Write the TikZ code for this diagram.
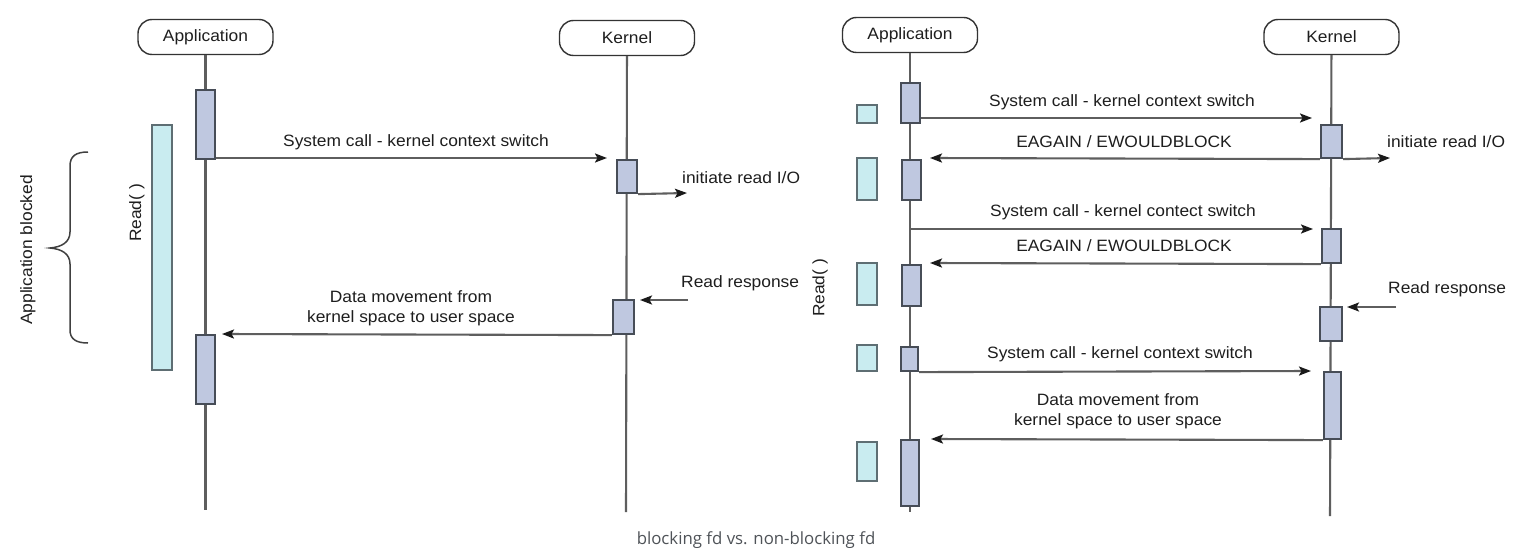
\documentclass[tikz,border=0pt]{standalone}
\usepackage{fontspec}
\setmainfont{Liberation Sans}[FakeStretch=1.06]
\newfontfamily\capfont{Open Sans}
\usetikzlibrary{arrows.meta}
\definecolor{actfill}{HTML}{BFC8E0}
\definecolor{actdraw}{HTML}{474D57}
\definecolor{cyfill}{HTML}{C9ECF0}
\definecolor{cydraw}{HTML}{5E6E73}
\definecolor{lifegray}{HTML}{5E5E5E}
\definecolor{textc}{HTML}{1E1E1E}
\definecolor{capc}{HTML}{4F5358}
\definecolor{tipc}{HTML}{1A1A1A}
\begin{document}
\begin{tikzpicture}[x=1pt,y=-1pt,
  head/.style={draw=black!80, line width=1.4pt, rounded corners=14pt, minimum width=135pt, minimum height=35pt, inner sep=0pt, text=textc, font=\fontsize{16.4}{19}\selectfont},
  act/.style={draw=actdraw, fill=actfill, line width=2.2pt, inner sep=0pt},
  cybox/.style={draw=cydraw, fill=cyfill, line width=2.2pt, inner sep=0pt},
  life/.style={draw=lifegray, line width=2.1pt},
  msg/.style={draw=lifegray, line width=2.1pt, -{Stealth[length=12pt,width=9pt,inset=2.5pt,color=tipc]}},
  lbl/.style={font=\fontsize{16.4}{19}\selectfont, text=textc, inner sep=0pt},
  brace/.style={draw=black!75, line width=1.5pt}
]
\useasboundingbox (0,0) rectangle (1530,556);
\fill[white] (0,0) rectangle (1530,556);

% ---------------- left: blocking ----------------
\node[head] (lapp) at (205.5,37) {Application};
\node[head] (lker) at (627,38) {Kernel};
\coordinate (lappend) at (205.5,510);
\coordinate (lkerend) at (626,512);
\draw[life] (lapp) -- (lappend);
\draw[life] (lker) -- (lkerend);

\node[cybox, minimum width=20pt, minimum height=245pt] (lread) at (162,247.5) {};
\node[act, minimum width=19pt, minimum height=69pt] (la1) at (205.5,124.5) {};
\node[act, minimum width=19pt, minimum height=69pt] (la2) at (205.5,369.5) {};
\node[act, minimum width=20pt, minimum height=33pt] (lk1) at (627,176.5) {};
\node[act, minimum width=21pt, minimum height=34pt] (lk2) at (623.5,317) {};

\coordinate (l1end) at (607,158);
\coordinate (lioend) at (687,193);
\coordinate (lrr) at (688,300);
\coordinate (lrrend) at (640,300);
\coordinate (ldmend) at (222,334);
\draw[msg] (la1.south east |- l1end) -- (l1end);
\draw[msg] (lk1.south east) -- (lioend);
\draw[msg] (lrr) -- (lrrend);
\draw[msg] (lk2.south west) -- (ldmend);

\node[lbl] (lt1) at (416,142) {System call - kernel context switch};
\node[lbl, anchor=west] (lt2) at (682,178) {initiate read I/O};
\node[lbl, anchor=west] (lt3) at (681,283) {Read response};
\node[lbl] (lt4) at (411,297) {Data movement from};
\node[lbl] (lt5) at (411,318) {kernel space to user space};
\node[lbl, rotate=90] (lt6) at (137,213) {Read( )};
\node[lbl, rotate=90] (lt7) at (28,250) {Application blocked};

\draw[brace] (88,152) .. controls (76,152) and (70,156) .. (70,166) -- (70,232)
  .. controls (70,242) and (62,247) .. (50,248)
  .. controls (62,249) and (70,254) .. (70,264) -- (70,330)
  .. controls (70,339) and (76,343) .. (88,343);

% ---------------- right: non-blocking ----------------
\node[head] (rapp) at (910,35) {Application};
\node[head] (rker) at (1331.5,37) {Kernel};
\coordinate (rappend) at (910,512);
\coordinate (rkerend) at (1330,516);
\draw[life] (rapp) -- (rappend);
\draw[life] (rker) -- (rkerend);

\node[cybox, minimum width=20pt, minimum height=18pt] (rc1) at (867,114) {};
\node[cybox, minimum width=20pt, minimum height=42pt] (rc2) at (867,179) {};
\node[cybox, minimum width=20pt, minimum height=42pt] (rc3) at (867,284) {};
\node[cybox, minimum width=20pt, minimum height=26pt] (rc4) at (867,358) {};
\node[cybox, minimum width=20pt, minimum height=39pt] (rc5) at (867,461.5) {};

\node[act, minimum width=19pt, minimum height=40pt] (ra1) at (910.5,103) {};
\node[act, minimum width=19pt, minimum height=40pt] (ra2) at (911.5,180) {};
\node[act, minimum width=19pt, minimum height=41pt] (ra3) at (911.5,285.5) {};
\node[act, minimum width=17pt, minimum height=24pt] (ra4) at (909.5,359) {};
\node[act, minimum width=18pt, minimum height=66pt] (ra5) at (910,473) {};

\node[act, minimum width=21pt, minimum height=33pt] (rk1) at (1331.5,141.5) {};
\node[act, minimum width=19pt, minimum height=34pt] (rk2) at (1331.5,246) {};
\node[act, minimum width=22pt, minimum height=34pt] (rk3) at (1331,324) {};
\node[act, minimum width=17pt, minimum height=67pt] (rk4) at (1332.5,405.5) {};

\coordinate (r1end) at (1312,118);
\coordinate (r2end) at (930,158);
\coordinate (r2io) at (1390,158);
\coordinate (r3end) at (1313,229);
\coordinate (r4end) at (930,263);
\coordinate (rrr) at (1396,307);
\coordinate (rrrend) at (1347,307);
\coordinate (r5end) at (1311,371);
\coordinate (r6end) at (931,439);
\draw[msg] (ra1.east |- r1end) -- (r1end);
\draw[msg] (rk1.south west) -- (r2end);
\draw[msg] (rk1.south east) -- (r2io);
\draw[msg] (rapp.south |- r3end) -- (r3end);
\draw[msg] (rk2.south west) -- (r4end);
\draw[msg] (rrr) -- (rrrend);
\draw[msg] (ra4.south east) -- (r5end);
\draw[msg] (rk4.south west) -- (r6end);

\node[lbl] (rt1) at (1122,102) {System call - kernel context switch};
\node[lbl] (rt2) at (1124,142) {EAGAIN / EWOULDBLOCK};
\node[lbl, anchor=west] (rt3) at (1387,142) {initiate read I/O};
\node[lbl] (rt4) at (1123,212) {System call - kernel contect switch};
\node[lbl] (rt5) at (1124,246) {EAGAIN / EWOULDBLOCK};
\node[lbl, anchor=west] (rt6) at (1388,289) {Read response};
\node[lbl] (rt7) at (1120,354) {System call - kernel context switch};
\node[lbl] (rt8) at (1118,400) {Data movement from};
\node[lbl] (rt9) at (1118,421) {kernel space to user space};
\node[lbl, rotate=90] (rt10) at (820,288) {Read( )};

% caption
\node[inner sep=0pt, text=capc, font=\capfont\fontsize{16.8}{19}\selectfont] (cap) at (756,540) {blocking fd vs. non-blocking fd};
\end{tikzpicture}
\end{document}
